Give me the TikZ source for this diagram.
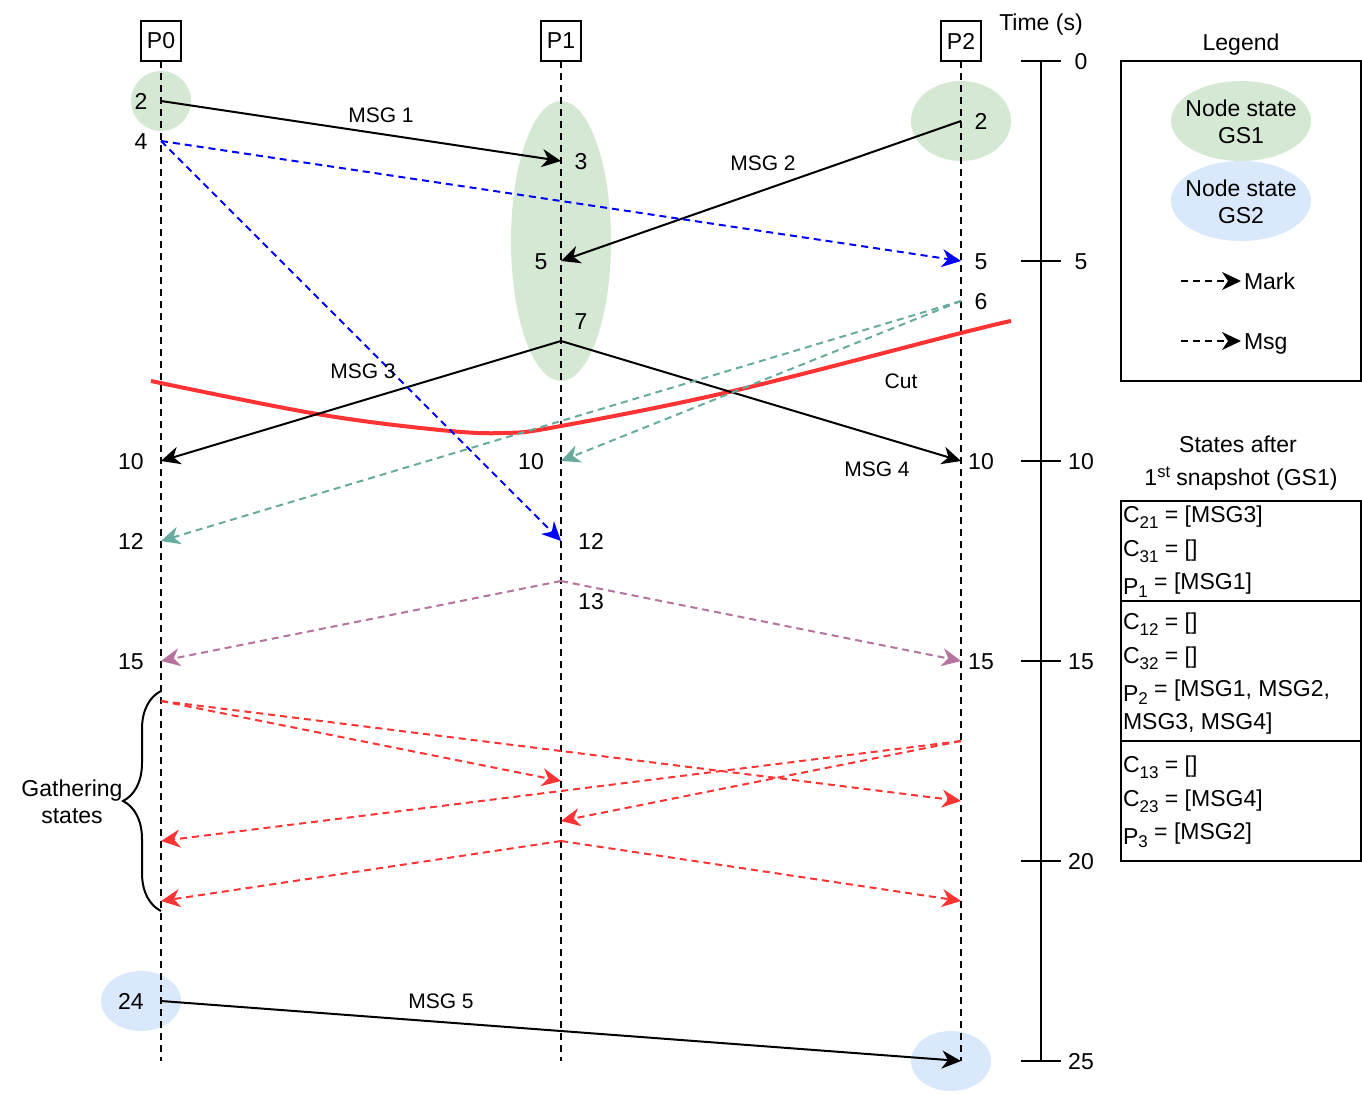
\documentclass[tikz,border=0pt]{standalone}
\usepackage{fontspec}
\setmainfont{Liberation Sans}
\usetikzlibrary{arrows.meta,decorations.pathreplacing,shapes.geometric}
\definecolor{gsgreen}{HTML}{D5E8D4}
\definecolor{gsblue}{HTML}{DAE8FC}
\definecolor{markblue}{HTML}{0000FF}
\definecolor{markteal}{HTML}{67AB9F}
\definecolor{markpurple}{HTML}{B5739D}
\definecolor{cutred}{HTML}{FF3333}
\newcommand\fmain{\fontsize{23}{27.5}\selectfont}
\newcommand\fedge{\fontsize{21}{25}\selectfont}
\newcommand\sbs[1]{\raisebox{-6pt}{\fontsize{17}{17}\selectfont #1}}
\newcommand\sps[1]{\raisebox{8pt}{\fontsize{16.5}{17}\selectfont #1}}
\newcommand\lowP[1]{\raisebox{-5pt}{P}\raisebox{-8pt}{\fontsize{17}{17}\selectfont #1}}
\begin{document}
\begin{tikzpicture}[x=1pt,y=-1pt,
  every node/.style={inner sep=0pt, outer sep=0pt},
  tip/.style={-{Stealth[length=19pt,width=18pt,inset=6pt]}},
  msgline/.style={tip, line width=2pt, black},
  markline/.style={tip, line width=2pt, dash pattern=on 7pt off 5pt},
  life/.style={line width=2pt, dash pattern=on 7pt off 5pt},
  lbl/.style={font=\fmain, text height=16.5pt, text depth=0pt},
  elbl/.style={font=\fedge, text height=15pt, text depth=0pt},
  proc/.style={draw, line width=2pt, minimum width=40pt, minimum height=40pt, font=\fmain},
  gsone/.style={ellipse, fill=gsgreen},
  gstwo/.style={ellipse, fill=gsblue},
  boxline/.style={font=\fmain, anchor=base west},
]
\useasboundingbox (0,0) rectangle (1362,1094);

% state ellipses
\node[gsone, minimum width=60pt, minimum height=60pt] (e0) at (161,101) {};
\node[gsone, minimum width=100pt, minimum height=280pt] (e1) at (561,241) {};
\node[gsone, minimum width=100pt, minimum height=80pt] (e2) at (961,121) {};
\node[gstwo, minimum width=80pt, minimum height=60pt] (e3) at (141,1001) {};
\node[gstwo, minimum width=80pt, minimum height=60pt] (e4) at (951,1061) {};

% processes and lifelines
\foreach \n/\x in {P0/161,P1/561,P2/961} {
  \node[proc] (\n) at (\x,41) {\n};
  \coordinate (\n end) at (\x,1061);
  \draw[life] (\n.south) -- (\n end);
}

% events
\coordinate (p0a) at (161,101); \coordinate (p0b) at (161,141);
\coordinate (p0c) at (161,461); \coordinate (p0d) at (161,541);
\coordinate (p0e) at (161,661); \coordinate (p0f) at (161,701);
\coordinate (p0g) at (161,841); \coordinate (p0h) at (161,901);
\coordinate (p0i) at (161,1001);
\coordinate (p1a) at (561,161); \coordinate (p1b) at (561,261);
\coordinate (p1c) at (561,341); \coordinate (p1d) at (561,461);
\coordinate (p1e) at (561,541); \coordinate (p1f) at (561,581);
\coordinate (p1g) at (561,781); \coordinate (p1h) at (561,821);
\coordinate (p1i) at (561,841);
\coordinate (p2a) at (961,121); \coordinate (p2b) at (961,261);
\coordinate (p2c) at (961,301); \coordinate (p2d) at (961,461);
\coordinate (p2e) at (961,661); \coordinate (p2f) at (961,741);
\coordinate (p2g) at (961,801); \coordinate (p2h) at (961,901);
\coordinate (p2i) at (961,1061);

% cut
\draw[cutred, line width=4pt] plot[smooth, tension=0.6] coordinates {(151,381) (317,414) (440,430) (505,433) (561,426) (733,391) (961,333) (1011,321)};

% messages
\draw[msgline] (p0a) -- (p1a);
\draw[msgline] (p2a) -- (p1b);
\draw[msgline] (p1c) -- (p0c);
\draw[msgline] (p1c) -- (p2d);
\draw[msgline] (p0i) -- (p2i);

% markers
\draw[markline, markblue] (p0b) -- (p2b);
\draw[markline, markblue] (p0b) -- (p1e);
\draw[markline, markteal] (p2c) -- (p1d);
\draw[markline, markteal] (p2c) -- (p0d);
\draw[markline, markpurple] (p1f) -- (p0e);
\draw[markline, markpurple] (p1f) -- (p2e);
\draw[markline, cutred] (p0f) -- (p1g);
\draw[markline, cutred] (p0f) -- (p2g);
\draw[markline, cutred] (p2f) -- (p0g);
\draw[markline, cutred] (p2f) -- (p1h);
\draw[markline, cutred] (p1i) -- (p0h);
\draw[markline, cutred] (p1i) -- (p2h);

% event labels
\node[lbl] (t0a) at (141,101) {2};
\node[lbl] (t0b) at (141,141) {4};
\node[lbl] (t0c) at (131,461) {10};
\node[lbl] (t0d) at (131,541) {12};
\node[lbl] (t0e) at (131,661) {15};
\node[lbl] (t0i) at (131,1001) {24};
\node[lbl] (t1a) at (581,161) {3};
\node[lbl] (t1b) at (541,261) {5};
\node[lbl] (t1c) at (581,321) {7};
\node[lbl] (t1d) at (531,461) {10};
\node[lbl] (t1e) at (591,541) {12};
\node[lbl] (t1f) at (591,601) {13};
\node[lbl] (t2a) at (981,121) {2};
\node[lbl] (t2b) at (981,261) {5};
\node[lbl] (t2c) at (981,301) {6};
\node[lbl] (t2d) at (981,461) {10};
\node[lbl] (t2e) at (981,661) {15};

% message labels
\node[elbl] (m1) at (381,115) {MSG 1};
\node[elbl] (m2) at (763,163) {MSG 2};
\node[elbl] (m3) at (363,371) {MSG 3};
\node[elbl] (m4) at (877,469) {MSG 4};
\node[elbl] (m5) at (441,1001) {MSG 5};
\node[elbl] (cut) at (901,381) {Cut};

% brace
\coordinate (br0) at (161,911); \coordinate (br1) at (161,691);
\draw[line width=2pt, decorate, decoration={brace, amplitude=38pt}] (br0) -- (br1);
\node[font=\fmain, align=center] (gath) at (72,802) {Gathering\\states};

% time axis
\node[lbl] (timelbl) at (1041,22) {Time (s)};
\coordinate (ax0) at (1041,61); \coordinate (ax1) at (1041,1061);
\draw[line width=2pt] (ax0) -- (ax1);
\foreach \t [count=\i from 0] in {0,5,10,15,20,25} {
  \draw[line width=2pt] (1021,61+200*\i) -- (1061,61+200*\i);
  \node[lbl] (tl\i) at (1081,61+200*\i) {\t};
}

% legend
\node[lbl] (legtitle) at (1241,42) {Legend};
\node[draw, line width=2pt, minimum width=240pt, minimum height=320pt] (legbox) at (1241,221) {};
\node[gsone, minimum width=140pt, minimum height=80pt] (lg1) at (1241,121) {};
\node[font=\fmain, align=center] (lg1t) at (1241,122) {Node state\\GS1};
\node[gstwo, minimum width=140pt, minimum height=80pt] (lg2) at (1241,201) {};
\node[font=\fmain, align=center] (lg2t) at (1241,202) {Node state\\GS2};
\coordinate (mk0) at (1181,281); \coordinate (mk1) at (1241,281);
\draw[markline, black] (mk0) -- (mk1);
\node[lbl, anchor=west] (mklbl) at (1244,281) {Mark};
\coordinate (ms0) at (1181,341); \coordinate (ms1) at (1241,341);
\draw[markline, black] (ms0) -- (ms1);
\node[lbl, anchor=west] (mslbl) at (1244,341) {Msg};

% states
\node[lbl] (st1) at (1238,444) {States after};
\node[lbl] (st2) at (1241,477) {1\sps{st} snapshot (GS1)};
\node[draw, line width=2pt, minimum width=240pt, minimum height=100pt] (sb1) at (1241,551) {};
\node[draw, line width=2pt, minimum width=240pt, minimum height=140pt] (sb2) at (1241,671) {};
\node[draw, line width=2pt, minimum width=240pt, minimum height=120pt] (sb3) at (1241,801) {};
\node[boxline] (s11) at (1123,522) {C\sbs{21} = [MSG3]};
\node[boxline] (s12) at (1123,556) {C\sbs{31} = []};
\node[boxline] (s13) at (1123,589) {\lowP{1} = [MSG1]};
\node[boxline] (s21) at (1123,629) {C\sbs{12} = []};
\node[boxline] (s22) at (1123,663) {C\sbs{32} = []};
\node[boxline] (s23) at (1123,696) {\lowP{2} = [MSG1, MSG2,};
\node[boxline] (s24) at (1123,729) {MSG3, MSG4]};
\node[boxline] (s31) at (1123,772) {C\sbs{13} = []};
\node[boxline] (s32) at (1123,806) {C\sbs{23} = [MSG4]};
\node[boxline] (s33) at (1123,839) {\lowP{3} = [MSG2]};
\end{tikzpicture}
\end{document}
